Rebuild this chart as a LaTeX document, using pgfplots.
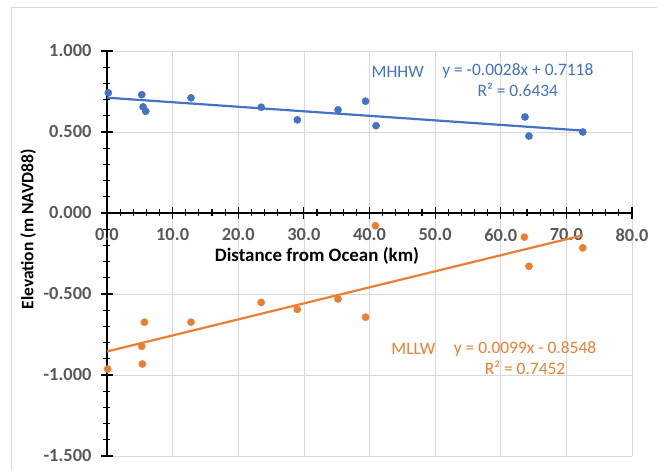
\documentclass[border=0pt]{standalone}
\usepackage{fontspec}
\setmainfont{Carlito}
\usepackage{pgfplots}
\pgfplotsset{compat=1.18}
\definecolor{mblue}{HTML}{4472C4}
\definecolor{morange}{HTML}{ED7D31}
\definecolor{tickgray}{HTML}{595959}
\definecolor{gridgray}{HTML}{D9D9D9}
\definecolor{bordergray}{HTML}{D9D9D9}
\pgfplotstableread{
x y
0.2 0.742
5.3 0.730
5.5 0.655
5.9 0.628
12.8 0.711
23.5 0.653
29.0 0.575
35.2 0.637
39.4 0.690
41.0 0.539
63.7 0.593
64.3 0.475
72.5 0.500
}\mhhw
\pgfplotstableread{
x y
0.1 -0.963
5.3 -0.823
5.4 -0.932
5.7 -0.674
12.8 -0.674
23.5 -0.552
29.0 -0.595
35.2 -0.531
39.4 -0.643
40.9 -0.079
63.6 -0.149
64.3 -0.329
72.5 -0.215
}\mllw
\begin{document}
\begin{tikzpicture}
\begin{axis}[
  at={(0,0)}, anchor=south west,
  scale only axis, width=525bp, height=405bp,
  xmin=0, xmax=80, ymin=-1.5, ymax=1.0,
  axis x line=middle, axis y line=left,
  axis line style={-, black, line width=1.3pt},
  xtick={0,10,20,30,40,50,60,70,80},
  ytick={-1.5,-1.0,-0.5,0,0.5,1.0},
  minor x tick num=4, minor y tick num=4,
  grid=major, major grid style={gridgray, line width=0.7pt},
  tick align=center, major tick length=12bp, minor tick length=7bp,
  every tick/.style={black, line width=1.1pt},
  hide obscured x ticks=false, hide obscured y ticks=false,
  /pgf/number format/assume math mode=true,
  xticklabel style={font=\fontsize{18.5}{21}\selectfont\bfseries, text=tickgray, yshift=-6bp,
    /pgf/number format/.cd, fixed, fixed zerofill, precision=1},
  yticklabel style={font=\fontsize{18.5}{21}\selectfont\bfseries, text=tickgray, xshift=-6bp,
    /pgf/number format/.cd, fixed, fixed zerofill, precision=3},
  clip=false,
]
\addplot[only marks, mark=*, mark size=3.6bp, color=mblue] table[x=x,y=y]{\mhhw};
\addplot[only marks, mark=*, mark size=3.6bp, color=morange] table[x=x,y=y]{\mllw};
\addplot[mblue, line width=2.2pt] coordinates {(0,0.7118) (72.5,0.5088)};
\addplot[morange, line width=2.2pt] coordinates {(0,-0.8548) (72.5,-0.1371)};
\node[font=\fontsize{19}{22}\selectfont\bfseries] at (axis cs:32.0,-0.267) {Distance from Ocean (km)};
\node[font=\fontsize{17.5}{20}\selectfont\bfseries, rotate=90] at (axis cs:-12.0,-0.10) {Elevation (m NAVD88)};
\node[font=\fontsize{17.5}{20}\selectfont, text=mblue] at (axis cs:44.3,0.874) {MHHW};
\node[font=\fontsize{17.5}{20}\selectfont, text=mblue] at (axis cs:62.6,0.874) {y = -0.0028x + 0.7118};
\node[font=\fontsize{17.5}{20}\selectfont, text=mblue] at (axis cs:62.6,0.758) {R² = 0.6434};
\node[font=\fontsize{17.5}{20}\selectfont, text=morange] at (axis cs:46.7,-0.839) {MLLW};
\node[font=\fontsize{17.5}{20}\selectfont, text=morange] at (axis cs:63.7,-0.839) {y = 0.0099x - 0.8548};
\node[font=\fontsize{17.5}{20}\selectfont, text=morange] at (axis cs:63.7,-0.955) {R² = 0.7452};
\end{axis}
\draw[bordergray, line width=0.8pt] (-96bp,-14bp) -- (-96bp,449bp) -- (550bp,449bp);
\pgfresetboundingbox
\path[use as bounding box] (-107bp,-14bp) rectangle (550bp,456bp);
\end{tikzpicture}
\end{document}
